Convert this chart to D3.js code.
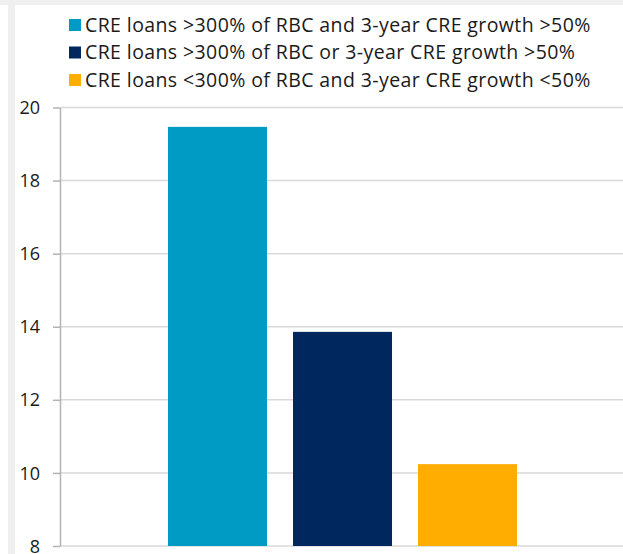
<!DOCTYPE html>
<html>
<head>
<meta charset="utf-8">
<script src="https://cdn.jsdelivr.net/npm/d3@7"></script>
<style>
  html, body { margin: 0; padding: 0; background: #fff; }
  svg { display: block; font-family: "Open Sans", "Noto Sans", sans-serif; }
</style>
</head>
<body>
<div id="chart"></div>
<script>
// Series labels, values and colours
const seriesLabels = [
  "CRE loans >300% of RBC and 3-year CRE growth >50%",
  "CRE loans >300% of RBC or 3-year CRE growth >50%",
  "CRE loans <300% of RBC and 3-year CRE growth <50%"
];
const seriesValues = [19.47, 13.86, 10.24];
const seriesColors = ["#009bc4", "#00285e", "#ffad00"];
const yTicks = [8, 10, 12, 14, 16, 18, 20];

const W = 623, H = 554;
const svg = d3.select("#chart").append("svg")
  .attr("width", W).attr("height", H);

// frame: grey top band and a thin grey strip on the left
svg.append("rect").attr("x", 0).attr("y", 0).attr("width", W).attr("height", H).attr("fill", "#fff");
svg.append("rect").attr("x", 0).attr("y", 0).attr("width", W).attr("height", 5).attr("fill", "#efefef");
svg.append("rect").attr("x", 8).attr("y", 5).attr("width", 7).attr("height", H - 5).attr("fill", "#efefef");

const plot = { left: 60, right: W, top: 107.5, bottom: 546 };

const y = d3.scaleLinear().domain([8, 20]).range([plot.bottom, plot.top]);
const x = d3.scaleBand()
  .domain(seriesLabels)
  .range([155, 530])
  .paddingInner(0.208)
  .paddingOuter(0.104);

// horizontal gridlines
svg.append("g")
  .selectAll("line")
  .data(yTicks)
  .join("line")
  .attr("x1", plot.left).attr("x2", plot.right)
  .attr("y1", d => y(d)).attr("y2", d => y(d))
  .attr("stroke", "#d9d9d9").attr("stroke-width", 1.5);

// bars
svg.append("g")
  .selectAll("rect")
  .data(seriesLabels)
  .join("rect")
  .attr("x", d => x(d))
  .attr("width", x.bandwidth())
  .attr("y", (d, i) => y(seriesValues[i]))
  .attr("height", (d, i) => plot.bottom - y(seriesValues[i]))
  .attr("fill", (d, i) => seriesColors[i]);

// y axis
const yAxis = svg.append("g")
  .attr("transform", `translate(${plot.left},0)`)
  .call(d3.axisLeft(y).tickValues(yTicks).tickSize(7).tickPadding(13).tickSizeOuter(0));
yAxis.select(".domain").attr("stroke", "#b3b3b3").attr("stroke-width", 1.5);
yAxis.selectAll(".tick line").attr("stroke", "#b3b3b3").attr("stroke-width", 1.5);
yAxis.selectAll(".tick text")
  .attr("fill", "#1a1a1a")
  .attr("font-size", 18)
  .attr("dy", "0.34em")
  .attr("font-family", "'Open Sans', 'Noto Sans', sans-serif");

// legend
const legend = svg.append("g").attr("transform", "translate(69,0)");
const rows = legend.selectAll("g")
  .data(seriesLabels)
  .join("g")
  .attr("transform", (d, i) => `translate(0,${19 + i * 27.5})`);
rows.append("rect")
  .attr("width", 12).attr("height", 12)
  .attr("fill", (d, i) => seriesColors[i]);
rows.append("text")
  .attr("x", 16).attr("y", 12.7)
  .attr("font-size", 19.5)
  .attr("letter-spacing", 0.4)
  .attr("fill", "#1a1a1a")
  .text(d => d);
</script>
</body>
</html>
